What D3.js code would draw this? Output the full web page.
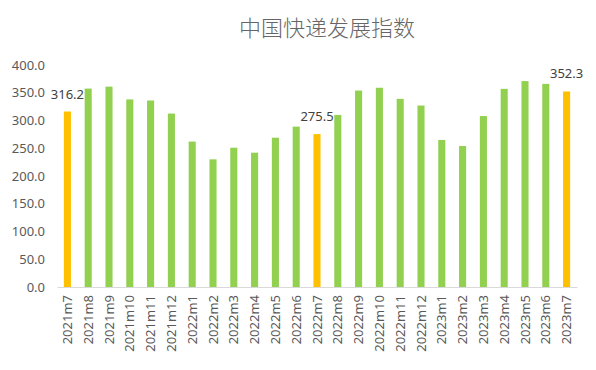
<!DOCTYPE html>
<html lang="zh">
<head>
<meta charset="UTF-8">
<title>中国快递发展指数</title>
<script src="https://cdn.jsdelivr.net/npm/d3@7"></script>
<style>
body { margin: 0; background: #fff; }
text { font-family: "Noto Sans", "Noto Sans CJK SC", sans-serif; }
</style>
</head>
<body>
<svg width="596" height="370"></svg>
<script>
var months = ['2021m7', '2021m8', '2021m9', '2021m10', '2021m11', '2021m12',
    '2022m1', '2022m2', '2022m3', '2022m4', '2022m5', '2022m6', '2022m7',
    '2022m8', '2022m9', '2022m10', '2022m11', '2022m12',
    '2023m1', '2023m2', '2023m3', '2023m4', '2023m5', '2023m6', '2023m7'];
var values = [316.2, 357.5, 361, 338, 336, 312.5,
    262, 230, 251, 242, 269, 289, 275.5,
    310, 354, 359, 339, 327,
    265, 254, 308, 357, 371, 366, 352.3];
var highlighted = ['2021m7', '2022m7', '2023m7'];
var yTicks = [0, 50, 100, 150, 200, 250, 300, 350, 400];

var svg = d3.select('svg');
var plotLeft = 57, plotRight = 577, plotTop = 65, plotBottom = 287;

var x = d3.scaleBand().domain(months).range([plotLeft, plotRight]).paddingInner(0.66).paddingOuter(0.33);
var y = d3.scaleLinear().domain([0, 400]).range([plotBottom, plotTop]);

svg.append('text')
    .attr('x', 327).attr('y', 36)
    .attr('text-anchor', 'middle')
    .attr('font-size', 22)
    .attr('font-weight', 300)
    .attr('fill', '#666')
    .text('中国快递发展指数');

// y axis, labels only
var yAxis = svg.append('g')
    .attr('transform', 'translate(' + plotLeft + ',0)')
    .call(d3.axisLeft(y).tickValues(yTicks).tickFormat(d3.format('.1f')).tickSize(0).tickPadding(12));
yAxis.select('.domain').remove();
yAxis.selectAll('text').attr('font-size', 13).attr('fill', '#595959').attr('font-family', '"Noto Sans", sans-serif');

// bars
svg.append('g').selectAll('rect')
    .data(months)
    .enter()
    .append('rect')
    .attr('x', function(d) { return x(d); })
    .attr('width', x.bandwidth())
    .attr('y', function(d, i) { return y(values[i]); })
    .attr('height', function(d, i) { return plotBottom - y(values[i]); })
    .attr('fill', function(d) { return highlighted.indexOf(d) >= 0 ? '#FFC000' : '#92D050'; });

// x axis
var xAxis = svg.append('g')
    .attr('transform', 'translate(0,' + plotBottom + ')')
    .call(d3.axisBottom(x).tickSize(0).tickPadding(0));
xAxis.select('.domain').attr('stroke', '#d9d9d9').attr('stroke-width', 1);
xAxis.selectAll('text')
    .attr('font-size', 13)
    .attr('fill', '#595959')
    .attr('font-family', '"Noto Sans", sans-serif')
    .attr('text-anchor', 'end')
    .attr('dy', '0.35em')
    .attr('transform', 'translate(0,8) rotate(-90)');

// data labels for highlighted bars
svg.append('g').selectAll('text')
    .data(months.filter(function(d) { return highlighted.indexOf(d) >= 0; }))
    .enter()
    .append('text')
    .attr('x', function(d) { return x(d) + x.bandwidth() / 2; })
    .attr('y', function(d) { return y(values[months.indexOf(d)]) - 13; })
    .attr('text-anchor', 'middle')
    .attr('font-size', 13)
    .attr('fill', '#404040')
    .text(function(d) { return values[months.indexOf(d)].toFixed(1); });
</script>
</body>
</html>
